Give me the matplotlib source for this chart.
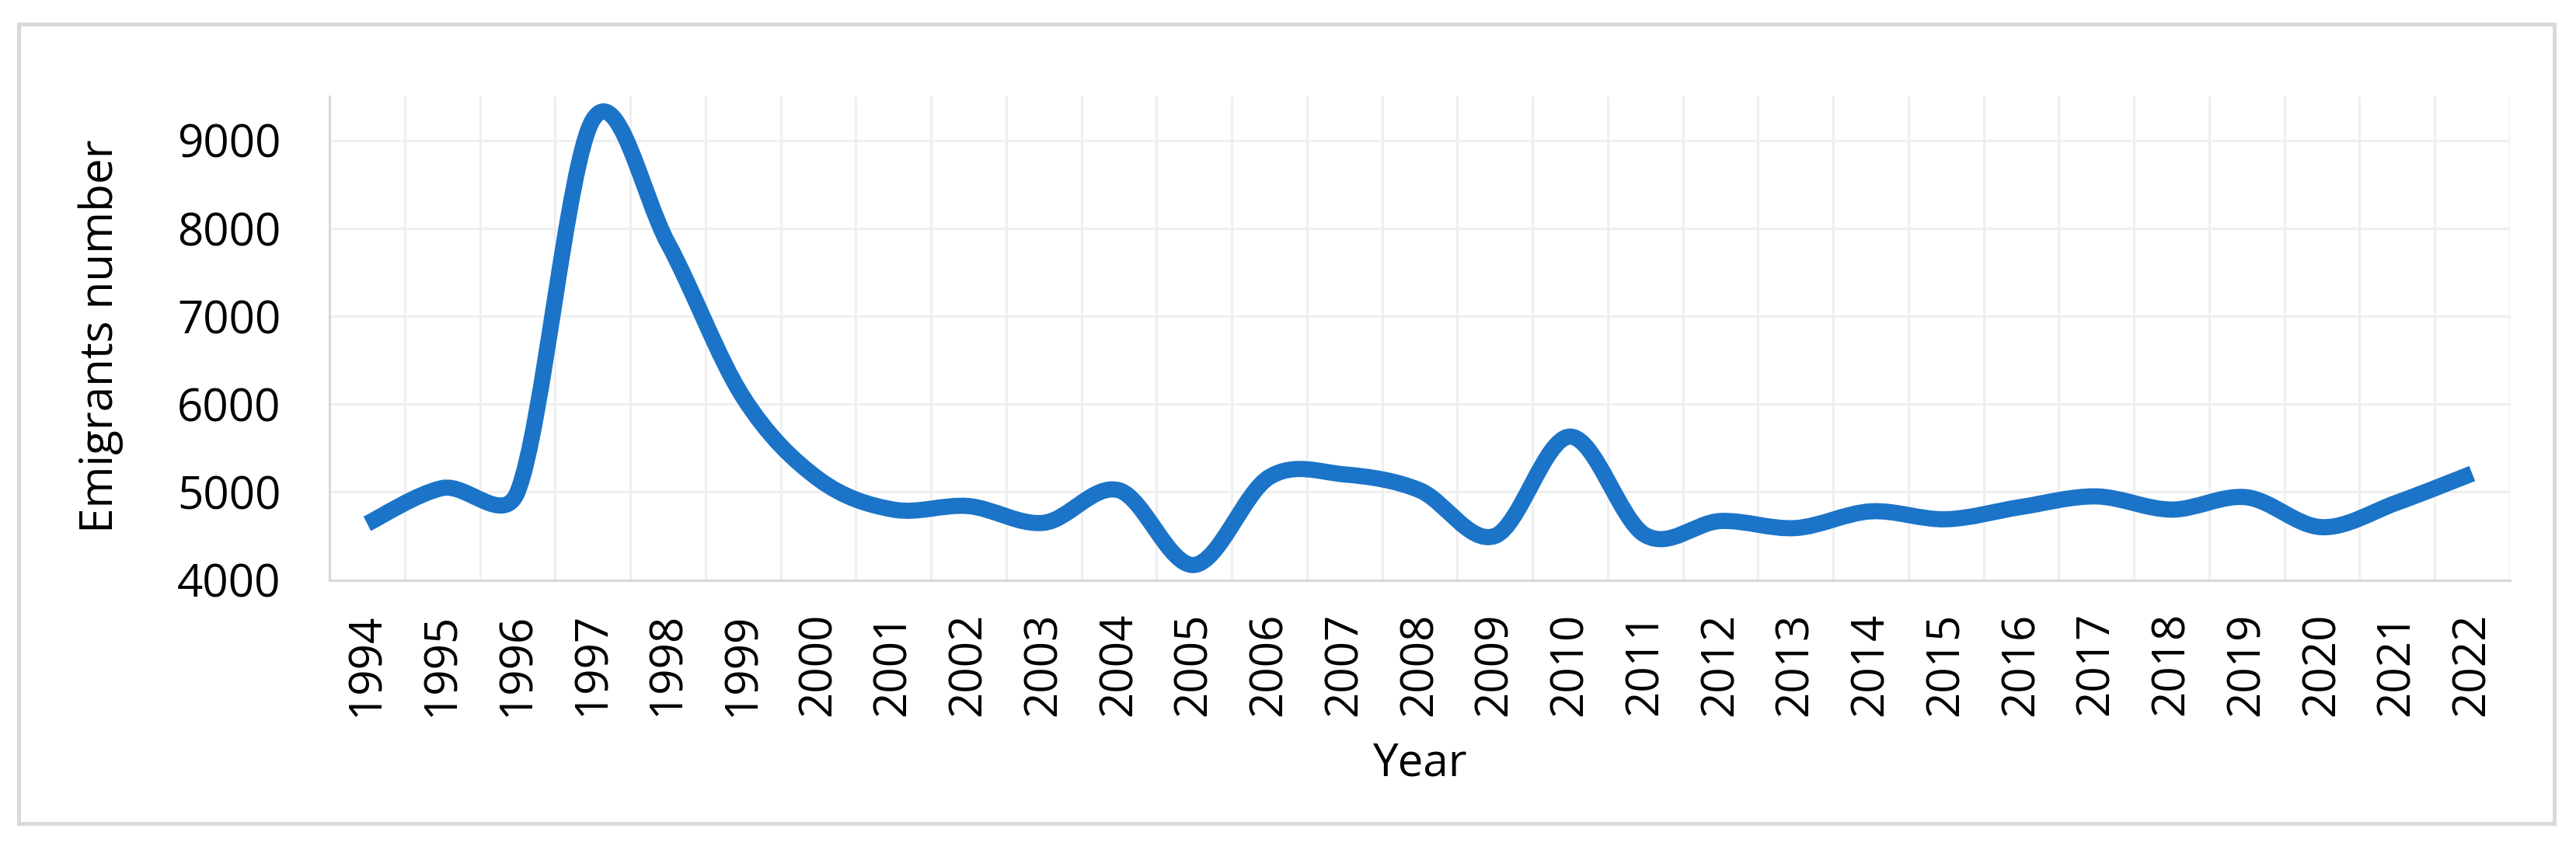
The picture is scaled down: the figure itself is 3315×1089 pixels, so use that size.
import math
import matplotlib.pyplot as plt
from matplotlib.path import Path
from matplotlib.patches import PathPatch, Rectangle

# Datos
years = list(range(1994, 2023))
emigrants = [4640, 5045, 5000, 9230, 7830, 6080, 5150, 4800, 4840, 4650,
             5020, 4170, 5170, 5200, 5020, 4500, 5630, 4510, 4670, 4590,
             4780, 4690, 4830, 4950, 4800, 4940, 4600, 4880, 5210]

plt.rcParams['font.family'] = ['Open Sans', 'DejaVu Sans']

fig = plt.figure(figsize=(33.16, 10.89), dpi=100)
ax = fig.add_axes([0.1279, 0.3145, 0.974 - 0.1279, 0.8861 - 0.3145])

n = len(years)
x = list(range(n))
y = emigrants
ax.set_xlim(-0.5, n - 0.5)
ax.set_ylim(4000, 9500)

# Suavizado tipo Excel: Catmull-Rom con el tirador limitado a la mitad del tramo
bbox = ax.get_window_extent()
sx = bbox.width / n
sy = bbox.height / 5500


def seg(i, j):
    return math.hypot((x[j] - x[i]) * sx, (y[j] - y[i]) * sy)


def handle(i, a, b, adj):
    # escala de la tangente en el punto i (vecinos a, b) hacia el tramo adj
    d = seg(a, b)
    if d == 0:
        return 0
    return min(1 / 6, 0.5 * adj / d)


verts = [(x[0], y[0])]
codes = [Path.MOVETO]
for i in range(n - 1):
    a = i - 1 if i > 0 else i
    b = i + 2 if i + 2 < n else i + 1
    l1 = seg(i, i + 1)
    k1 = handle(i, a, i + 1, l1)
    k2 = handle(i + 1, i, b, l1)
    c1 = (x[i] + (x[i + 1] - x[a]) * k1, y[i] + (y[i + 1] - y[a]) * k1)
    c2 = (x[i + 1] - (x[b] - x[i]) * k2, y[i + 1] - (y[b] - y[i]) * k2)
    verts += [c1, c2, (x[i + 1], y[i + 1])]
    codes += [Path.CURVE4] * 3
ax.add_patch(PathPatch(Path(verts, codes), fill=False, edgecolor='#1B74C7',
                       lw=15, capstyle='butt', joinstyle='round', zorder=3))

ax.set_yticks(range(4000, 9001, 1000))
ax.set_xticks(x)
ax.set_xticklabels([str(a) for a in years], rotation=90)
ax.set_xticks([i - 0.5 for i in range(n + 1)], minor=True)

ax.grid(True, which='minor', axis='x', color='#efefef', lw=2.2)
ax.grid(True, which='major', axis='y', color='#efefef', lw=2.2)
ax.tick_params(which='both', length=0)
ax.tick_params(axis='y', labelsize=42, pad=45)
ax.tick_params(axis='x', labelsize=42, pad=30)

for s in ['top', 'right']:
    ax.spines[s].set_visible(False)
for s in ['left', 'bottom']:
    ax.spines[s].set_color('#d9d9d9')
    ax.spines[s].set_linewidth(2.2)

fig.text(130 / 3316, 1 - 433 / 1089, 'Emigrants number', rotation=90,
         ha='center', va='center', fontsize=42)
fig.text(0.5 * (0.1279 + 0.974), 1 - 983 / 1089, 'Year',
         ha='center', va='center', fontsize=42)

# Marco exterior
fig.patches.append(Rectangle((24.5 / 3316, 1 - 1060 / 1089),
                             (3287 - 24.5) / 3316, (1060 - 30.5) / 1089,
                             transform=fig.transFigure, fill=False,
                             edgecolor='#d9d9d9', lw=3.6))

plt.savefig('out.png', dpi=100)
